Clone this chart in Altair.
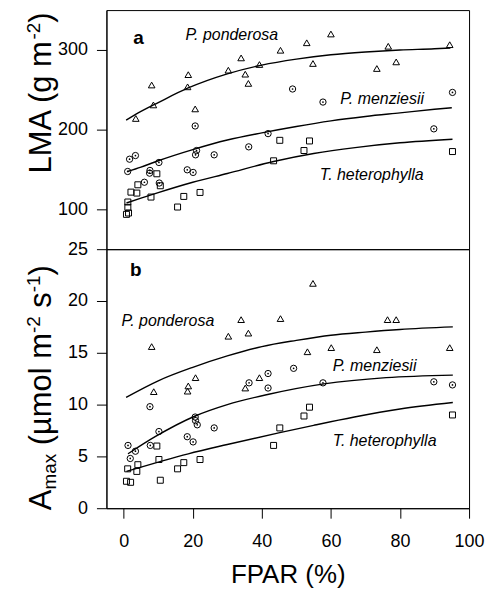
import altair as alt
import pandas as pd

# ---------------- data ----------------
SPECIES = ["P. ponderosa", "P. menziesii", "T. heterophylla"]

# Panel a : LMA (g m-2)
a_pp_x = [60.0, 94.4, 76.6, 53.0, 45.4, 34.0, 54.8, 78.9, 73.3, 39.3, 30.3, 35.2, 36.1, 18.7, 18.5, 8.1, 8.6, 20.7, 3.5]
a_pp_y = [320, 306.6, 304.6, 309, 299.6, 290, 283, 285, 276.7, 281.7, 274.6, 269.6, 258, 269, 253.7, 256, 231, 226, 214]
a_pm_x = [48.9, 57.7, 95.2, 20.7, 89.8, 41.8, 36.2, 26.2, 21.1, 20.8, 18.4, 20.1, 1.7, 3.4, 10.2, 1.15, 7.6, 7.5, 6.0, 10.3]
a_pm_y = [251, 234.6, 246.7, 204.6, 201, 195, 178.4, 168.4, 173.8, 168.4, 149.6, 146.3, 162.9, 167.5, 158.8, 147.5, 148.8, 145.4, 134, 133]
a_th_x = [45.2, 53.8, 52.2, 43.4, 95.2, 9.6, 4.1, 10.6, 2.1, 3.8, 7.9, 17.4, 22.1, 15.6, 1.2, 1.2, 0.8, 1.4]
a_th_y = [186.6, 185.8, 173.8, 160.9, 172.5, 144.6, 130.8, 129.6, 121.6, 120.4, 115.4, 116.2, 121.2, 102.9, 109.2, 102.5, 93.7, 95.4]

# fitted curves, panel a
a_fit_pp_x = [0.7, 5, 10, 18.5, 30, 40, 50, 60, 70, 80, 90, 94.6]
a_fit_pp_y = [212, 223, 234, 252, 270, 281, 288.5, 294, 297.5, 300, 301.5, 302.5]
a_fit_pm_x = [1.15, 5, 10, 20, 30, 40, 50, 60, 70, 80, 90, 95]
a_fit_pm_y = [147.5, 153, 161, 175, 187, 196, 204, 211, 216.5, 221, 225.5, 227.5]
a_fit_th_x = [0.8, 5, 10, 20, 30, 43.4, 55, 67, 80, 95.2]
a_fit_th_y = [108, 114, 121, 134, 145, 160, 170, 177.5, 183.5, 188]

# Panel b : Amax (umol m-2 s-1)
b_pp_x = [54.8, 34.0, 45.4, 76.4, 78.9, 30.3, 36.1, 8.1, 94.4, 53.2, 60.1, 73.3, 20.8, 39.3, 18.7, 18.5, 35.2, 8.7]
b_pp_y = [21.7, 18.2, 18.3, 18.2, 18.2, 16.6, 16.9, 15.6, 15.5, 15.1, 15.5, 15.3, 12.6, 12.6, 11.8, 11.3, 11.6, 11.25]
b_pm_x = [49.2, 41.8, 36.3, 41.8, 57.7, 89.8, 95.2, 7.6, 20.7, 20.8, 21.3, 26.2, 10.2, 18.4, 20.1, 1.25, 7.7, 3.4, 1.9]
b_pm_y = [13.5, 13.0, 12.1, 11.6, 12.1, 12.2, 11.9, 9.8, 8.8, 8.45, 8.05, 7.75, 7.4, 6.9, 6.4, 6.06, 6.06, 5.5, 4.8]
b_th_x = [53.8, 52.2, 95.2, 45.2, 43.4, 9.6, 10.2, 4.1, 1.15, 3.8, 17.4, 15.6, 22.1, 0.8, 2.0, 10.6]
b_th_y = [9.75, 8.9, 9.0, 7.75, 6.06, 6.0, 4.7, 4.2, 3.8, 3.55, 4.4, 3.8, 4.7, 2.6, 2.5, 2.7]

# fitted curves, panel b
b_fit_pp_x = [0.7, 10, 20, 30, 40, 50, 60, 70, 80, 95.3]
b_fit_pp_y = [10.7, 12.3, 13.6, 14.7, 15.6, 16.2, 16.7, 17.0, 17.25, 17.5]
b_fit_pm_x = [1.25, 9.1, 20.7, 30, 42, 58, 76, 95.3]
b_fit_pm_y = [5.25, 6.9, 8.9, 10.0, 11.0, 12.0, 12.6, 12.85]
b_fit_th_x = [0.8, 10, 18.7, 30, 45.2, 55, 66.8, 80, 95.3]
b_fit_th_y = [3.56, 4.45, 5.25, 6.15, 7.3, 8.0, 8.8, 9.57, 10.2]

x_ticks = [0, 20, 40, 60, 80, 100]
a_ticks = [100, 200, 300]
b_ticks = [0, 5, 10, 15, 20, 25]

# species labels inside panels: (text, x, y)
a_labels = [("P. ponderosa", 17.9, 318.5), ("P. menziesii", 62.7, 239), ("T. heterophylla", 56.8, 143.4)]
b_labels = [("P. ponderosa", -0.6, 18.1), ("P. menziesii", 60.5, 13.7), ("T. heterophylla", 60.5, 6.44)]

# ---------------- helpers ----------------
FONT = "Liberation Sans"
W, H_A, H_B = 364, 240, 260
X_DOM = [-5, 100]
TFS, SFS = 31, 19  # y-title main / super-subscript font sizes

# Arial / Liberation Sans advance widths (per 1000 em) for title pieces
ADV = {'L': 556, 'M': 833, 'A': 667, ' ': 278, '(': 333, 'g': 556, 'm': 833, ')': 333,
       '-': 333, '2': 556, '1': 556, 'a': 556, 'x': 500, 'µ': 576, 'o': 556, 'l': 222, 's': 500}


def text_width(t, fs):
    return sum(ADV.get(c, 556) for c in t) * fs / 1000.0


def pts_df(xs, ys, sp):
    return pd.DataFrame({"x": xs, "y": ys, "sp": sp})


def build_panel(pts, fits, labels, letter, ydom, yticks, height, show_x, title_pieces, title_x, title_y0):
    pts_data = pd.concat([pts_df(*p) for p in pts], ignore_index=True)
    fit_data = pd.concat([pts_df(*f) for f in fits], ignore_index=True)
    lab_data = pd.DataFrame({"t": [l[0] for l in labels], "x": [l[1] for l in labels], "y": [l[2] for l in labels]})
    let_data = pd.DataFrame({"t": [letter[0]], "x": [letter[1]], "y": [letter[2]]})

    if show_x:
        xaxis = alt.Axis(values=x_ticks, tickSize=10, labelPadding=14, title="FPAR (%)",
                         titleFontSize=26, titleFontWeight="normal", titlePadding=12, grid=False)
    else:
        xaxis = None
    xenc = alt.X("x:Q", scale=alt.Scale(domain=X_DOM, nice=False, zero=False), axis=xaxis)
    yenc = alt.Y("y:Q", scale=alt.Scale(domain=ydom, nice=False, zero=False),
                 axis=alt.Axis(values=yticks, tickSize=10, labelPadding=9, title=None, grid=False))

    lines = alt.Chart(fit_data).mark_line(color="black", strokeWidth=1.4, interpolate="monotone").encode(
        x=xenc, y=yenc, detail="sp:N")
    points = alt.Chart(pts_data).mark_point(filled=False, color="black", strokeWidth=1, opacity=1).encode(
        x=xenc, y=yenc,
        shape=alt.Shape("sp:N", scale=alt.Scale(domain=SPECIES, range=["triangle-up", "circle", "square"]), legend=None),
        size=alt.Size("sp:N", scale=alt.Scale(domain=SPECIES, range=[44, 36, 42]), legend=None),
    )
    dots = alt.Chart(pts_data).transform_filter(alt.datum.sp == "P. menziesii").mark_circle(
        size=3, color="black", opacity=1).encode(x=xenc, y=yenc)
    labs = alt.Chart(lab_data).mark_text(font=FONT, fontStyle="italic", fontSize=16, align="left",
                                         baseline="middle", color="black").encode(x=xenc, y=yenc, text="t:N")
    let = alt.Chart(let_data).mark_text(font=FONT, fontWeight="bold", fontSize=19, align="center",
                                        baseline="middle", color="black").encode(x=xenc, y=yenc, text="t:N")

    layers = [lines, points, dots, labs, let]

    # rotated y-axis title built from pieces (normal / super / subscript), placed in pixels.
    # Leading spaces are advanced explicitly (SVG would collapse them).
    ypos = title_y0
    for t, fs, shift in title_pieces:
        stripped = t.lstrip(" ")
        ypos -= text_width(t[: len(t) - len(stripped)], fs)
        layers.append(alt.Chart(let_data).mark_text(font=FONT, fontSize=fs, angle=270, align="left",
                                                   baseline="alphabetic", color="black",
                                                   x=title_x + shift, y=ypos, text=stripped))
        ypos -= text_width(stripped, fs)
    return alt.layer(*layers).properties(width=W, height=height)


top = build_panel(
    pts=[(a_pp_x, a_pp_y, SPECIES[0]), (a_pm_x, a_pm_y, SPECIES[1]), (a_th_x, a_th_y, SPECIES[2])],
    fits=[(a_fit_pp_x, a_fit_pp_y, SPECIES[0]), (a_fit_pm_x, a_fit_pm_y, SPECIES[1]), (a_fit_th_x, a_fit_th_y, SPECIES[2])],
    labels=a_labels, letter=("a", 4.3, 315), ydom=[50, 350], yticks=a_ticks, height=H_A, show_x=False,
    title_pieces=[("LMA (g m", TFS, 0), ("-2", SFS, -11), (")", TFS, 0)], title_x=-56, title_y0=164,
)

bottom = build_panel(
    pts=[(b_pp_x, b_pp_y, SPECIES[0]), (b_pm_x, b_pm_y, SPECIES[1]), (b_th_x, b_th_y, SPECIES[2])],
    fits=[(b_fit_pp_x, b_fit_pp_y, SPECIES[0]), (b_fit_pm_x, b_fit_pm_y, SPECIES[1]), (b_fit_th_x, b_fit_th_y, SPECIES[2])],
    labels=b_labels, letter=("b", 3.5, 23.0), ydom=[0, 25], yticks=b_ticks, height=H_B, show_x=True,
    title_pieces=[("A", TFS, 0), ("max", SFS, 5), (" (µmol m", TFS, 0), ("-2", SFS, -11), (" s", TFS, 0),
                  ("-1", SFS, -11), (")", TFS, 0)],
    title_x=-56, title_y0=262,
)

chart = alt.vconcat(top, bottom, spacing=0, bounds="flush").properties(
    padding={"left": 15.8, "top": 0, "right": 0, "bottom": 0}
).configure_view(stroke="black", strokeWidth=1).configure_axis(
    labelFont=FONT, titleFont=FONT, labelFontSize=18, labelColor="black", titleColor="black",
    tickColor="black", domainColor="black", tickWidth=1, domainWidth=1, labelFlush=False,
)

chart.save("out.html", embed_options={"renderer": "svg", "actions": False})
